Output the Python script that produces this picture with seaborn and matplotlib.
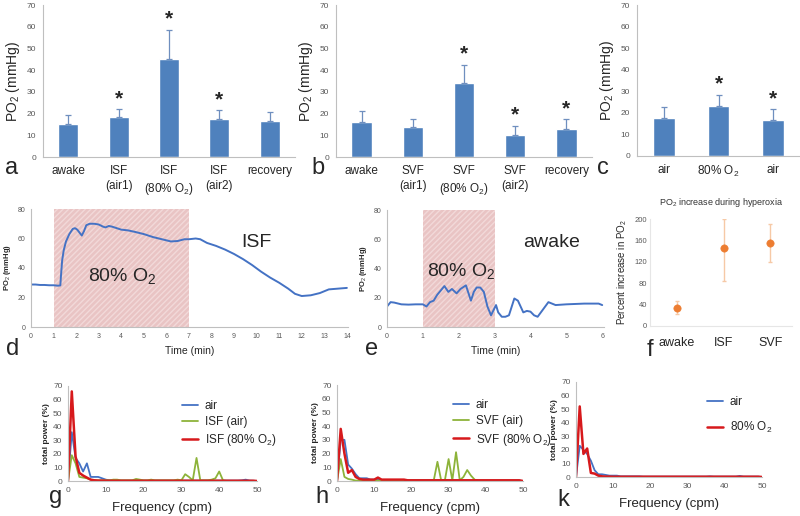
import numpy as np
import pandas as pd
import matplotlib
matplotlib.use("Agg")
import matplotlib.pyplot as plt
import seaborn as sns

# ---- data: bar panels (mean PO2 and upper error) ----
a_labels = ["awake", "ISF\n(air1)", "ISF\n(80% O$_2$)", "ISF\n(air2)", "recovery"]
a_means = [15.2, 18.3, 45.3, 17.7, 16.7]
a_err = [4.3, 3.7, 13.4, 3.8, 4.1]
a_star = [False, True, True, True, False]

b_labels = ["awake", "SVF\n(air1)", "SVF\n(80% O$_2$)", "SVF\n(air2)", "recovery"]
b_means = [16.3, 13.8, 34.0, 10.3, 13.0]
b_err = [4.7, 3.9, 8.5, 4.2, 4.5]
b_star = [False, False, True, True, True]

c_labels = ["air", "80% O$_2$", "air"]
c_means = [17.5, 23.0, 16.5]
c_err = [5.0, 5.3, 5.3]
c_star = [False, True, True]

# ---- data: PO2 traces ----
d_time = [0.0, 0.2, 0.4, 0.6, 0.8, 1.0, 1.2, 1.3, 1.32, 1.38, 1.45, 1.55, 1.7, 1.85,
          1.95, 2.05, 2.15, 2.25, 2.35, 2.45, 2.6, 2.8, 3.0, 3.2, 3.3, 3.45, 3.6, 3.8,
          4.0, 4.3, 4.6, 5.0, 5.4, 5.8, 6.2, 6.5, 6.8, 7.0, 7.3, 7.5, 7.8, 8.2, 8.6,
          9.0, 9.4, 9.8, 10.2, 10.6, 11.0, 11.4, 11.7, 12.0, 12.4, 12.8, 13.2, 13.6, 14.0]
d_po2 = [28.8, 28.8, 28.5, 28.5, 28.3, 28.3, 28.0, 28.2, 33, 45, 52, 58, 63, 66.5,
         67, 66, 64, 62, 65, 69, 70, 70, 69.5, 68, 67.5, 68.5, 68, 67,
         66, 65.5, 64.5, 63, 61, 59.5, 58, 58.3, 59.5, 59.5, 60, 59.5, 57, 55, 52.5,
         49.5, 46, 42, 37.5, 33.5, 30, 26, 22.5, 21, 21.5, 23, 25.5, 26, 26.5]

e_time = [0.0, 0.1, 0.2, 0.4, 0.6, 0.8, 1.0, 1.1, 1.2, 1.3, 1.4, 1.5, 1.6, 1.71,
          1.81, 1.94, 2.05, 2.2, 2.34, 2.42, 2.5, 2.6, 2.7, 2.8, 2.9, 3.04, 3.1,
          3.2, 3.3, 3.4, 3.55, 3.65, 3.8, 3.9, 4.0, 4.1, 4.2, 4.35, 4.5, 4.7, 5.0,
          5.5, 5.9, 6.0]
e_po2 = [14, 17, 16.7, 15.5, 15.3, 15.5, 15.5, 14, 17, 18, 22, 25, 28, 24,
         26, 23, 26, 28.5, 18, 24, 27, 27, 24, 14, 8, 15, 10,
         7, 7, 8, 19.5, 18, 10, 11, 10.5, 8, 7, 12, 17, 15, 15.5,
         16, 16, 15]

# ---- data: hyperoxia percent increase ----
f_groups = ["awake", "ISF", "SVF"]
f_mean = [34, 145, 155]
f_lo = [12, 60, 35]
f_hi = [12, 55, 35]

# ---- data: power spectra (frequency 0..50 cpm) ----
freq = list(range(51))
g_air = [0, 36, 17, 13, 7, 13, 3, 3, 3, 2, 1, 0.5, 0.5, 0.3, 0.3, 0.3, 0.3, 0.3, 0.3, 0.3,
         0.3, 0.3, 0.3, 0.3, 0.3, 0.3, 0.3, 0.3, 0.3, 0.3, 0.3, 0.3, 0.3, 0.3, 0.3, 0.3,
         0.3, 0.3, 0.3, 0.3, 0.3, 0.3, 0.3, 0.3, 0.3, 0.3, 0.5, 1, 0.3, 0.2, 0]
g_isf_air = [0, 19, 13, 3, 2.5, 2, 1, 0.5, 0.5, 0.5, 0.5, 0.5, 1, 1, 0.5, 0.5, 0.5, 0.5, 1.5, 1,
             0.5, 0.5, 1, 0.5, 0.5, 0.5, 0.5, 0.5, 0.5, 1, 0.5, 5, 3, 0.5, 17, 0.5,
             0.5, 0.5, 1, 2, 7, 0.5, 0, 0, 0, 0, 0, 0, 0, 0, 0]
g_isf_o2 = [0, 66, 18, 6, 4, 2.5, 1, 0.5, 0.3, 0.3, 0.2, 0.2, 0.2, 0.2, 0.2, 0.2, 0.2, 0.2, 0.2, 0.2,
            0.2, 0.2, 0.2, 0.2, 0.2, 0.2, 0.2, 0.2, 0.2, 0.2, 0.2, 0.2, 0.2, 0.2, 0.2, 0.2,
            0.2, 0.2, 0.2, 0.2, 0.2, 0.2, 0.2, 0.2, 0.2, 0.2, 0.2, 0.2, 0.2, 0.2, 0]

h_air = [0, 30, 30, 12, 9, 5, 2, 2, 2, 1, 1, 1, 0.5, 0.5, 0.5, 0.5, 0.5, 0.5, 0.5, 0.5,
         0.5, 0.5, 0.5, 0.5, 0.5, 0.5, 0.5, 0.5, 0.5, 0.5, 0.5, 0.5, 0.5, 0.3, 0.3, 0.3,
         0.3, 0.3, 0.3, 0.3, 0.3, 0.3, 0.3, 0.3, 0.3, 0.3, 0.3, 0.3, 0.3, 0.3, 0]
h_svf_air = [0, 16, 3, 1.5, 1, 0.3, 0.3, 0.3, 0.3, 0.3, 0.3, 0.3, 0.3, 0.3, 0.3, 0.3, 0.3, 0.3, 0.3, 0.3,
             0.3, 0.3, 0.3, 0.3, 0.3, 0.3, 0.3, 14, 0.5, 0.5, 16, 0.5, 21, 0.5, 3, 8,
             4, 1, 0, 0, 0, 0, 0, 0, 0, 0, 0, 0, 0, 0, 0]
h_svf_o2 = [0, 38, 20, 6, 8, 3, 1.5, 1, 1, 1, 1, 2.5, 1, 1, 1, 1, 1, 1, 1, 0.5,
            0.5, 0.5, 0.5, 0.5, 0.5, 0.5, 0.5, 0.5, 0.5, 0.5, 0.5, 0.5, 0.5, 0.5, 0.5, 0.5,
            0.5, 0.5, 0.5, 0.5, 0.5, 0.5, 0.5, 0.5, 0.5, 0.5, 0.5, 0.5, 0.5, 0.5, 0]

k_air = [0, 23, 20, 17, 12, 5, 2, 2, 1.5, 1, 1, 1, 0.5, 0.5, 0.5, 0.5, 0.5, 0.5, 0.3, 0.3,
         0.3, 0.3, 0.3, 0.3, 0.3, 0.3, 0.3, 0.3, 0.3, 0.3, 0.3, 0.3, 0.3, 0.3, 0.3, 0.3,
         0.5, 0.3, 0.3, 0.3, 0.3, 0.3, 0.3, 0.3, 0.8, 0.3, 0.3, 0.3, 0.3, 0.3, 0]
k_o2 = [0, 52, 17, 21, 3, 2.5, 1, 0.5, 0.3, 0.3, 0.2, 0.2, 0.2, 0.2, 0.2, 0.2, 0.2, 0.2, 0.2, 0.2,
        0.2, 0.2, 0.2, 0.2, 0.2, 0.2, 0.2, 0.2, 0.2, 0.2, 0.2, 0.2, 0.2, 0.2, 0.2, 0.2,
        0.2, 0.2, 0.2, 0.2, 0.2, 0.2, 0.2, 0.2, 0.2, 0.2, 0.2, 0.2, 0.2, 0.2, 0]

# ---- style ----
sns.set_style("white")
plt.rcParams['font.family'] = ['Liberation Sans', 'DejaVu Sans']
plt.rcParams['mathtext.fontset'] = 'custom'
plt.rcParams['mathtext.rm'] = 'Liberation Sans'

BAR = "#4F81BD"
LINE = "#4472C4"
GREEN = "#8DB33A"
RED = "#D7191C"
ORANGE = "#ED7D31"
AXC = "#BFBFBF"
TICKC = "#595959"

fig = plt.figure(figsize=(8, 5.16), dpi=100)


def ax_at(l, t, r, b):
    # pixel box -> figure axes
    return fig.add_axes([l / 800, 1 - b / 516, (r - l) / 800, (b - t) / 516])


def excel_axes(ax):
    for s in ["top", "right"]:
        ax.spines[s].set_visible(False)
    for s in ["left", "bottom"]:
        ax.spines[s].set_color(AXC)
        ax.spines[s].set_linewidth(0.8)


def bar_panel(ax, labels, means, err, stars, letter, lx):
    n = len(means)
    pos = list(range(n))
    sns.barplot(x=pos, y=means, color=BAR, width=0.4, saturation=1, ax=ax)
    ax.errorbar(pos, means, yerr=[np.zeros(n), err], fmt="none",
                ecolor="#6F8FBF", elinewidth=0.9, capsize=2, capthick=0.9)
    for i in range(n):
        if stars[i]:
            ax.text(i, means[i] + err[i] + 0.5, "*", ha="center", va="bottom",
                    fontsize=15, fontweight="bold")
    excel_axes(ax)
    ax.set_xlim(-0.5, n - 0.5)
    ax.set_ylim(0, 70)
    ax.set_yticks(range(0, 71, 10))
    ax.set_xticks(pos)
    ax.set_xticklabels(labels, fontsize=8.5, linespacing=1.3)
    ax.set_xticks(np.arange(-0.5, n, 1), minor=True)
    ax.tick_params(axis="x", which="major", length=0, pad=6)
    ax.tick_params(axis="x", which="minor", length=3, color=AXC)
    ax.tick_params(axis="y", labelsize=6, labelcolor=TICKC, length=3, color=AXC, pad=2)
    ax.set_ylabel("PO$_2$ (mmHg)", fontsize=10, labelpad=3)
    fig.text(lx / 800, 1 - 168 / 516, letter, fontsize=17, ha="center", va="center")


ax_a = ax_at(43, 5, 295, 157)
bar_panel(ax_a, a_labels, a_means, a_err, a_star, "a", 12)
ax_b = ax_at(336, 5, 592, 157)
bar_panel(ax_b, b_labels, b_means, b_err, b_star, "b", 318)
ax_c = ax_at(637, 5, 800, 156)
bar_panel(ax_c, c_labels, c_means, c_err, c_star, "c", 603)


def trace_panel(ax, t, v, xmax, span, txt, letter, lx):
    ax.axvspan(span[0], span[1], ymin=0, ymax=1, facecolor="#E9C4C4",
               edgecolor="#F2D9D9", hatch="//////", linewidth=0, zorder=0)
    df = pd.DataFrame({"t": t, "v": v})
    sns.lineplot(data=df, x="t", y="v", color=LINE, linewidth=1.4, ax=ax)
    excel_axes(ax)
    ax.set_xlim(0, xmax + 0.05)
    ax.set_ylim(0, 80)
    ax.set_xticks(range(0, int(xmax) + 1))
    ax.set_yticks(range(0, 81, 20))
    ax.tick_params(labelsize=5, labelcolor=TICKC, length=2, color=AXC, pad=2)
    ax.set_xlabel("Time (min)", fontsize=7.5, labelpad=5)
    ax.set_ylabel("PO$_2$ (mmHg)", fontsize=5.5, fontweight="bold", labelpad=3)
    for (x, y, s) in txt:
        ax.text(x, y, s, fontsize=14, ha="center", va="center")
    fig.text(lx / 800, 1 - 349 / 516, letter, fontsize=17, ha="center", va="center")


ax_d = ax_at(31, 209, 348, 327)
trace_panel(ax_d, d_time, d_po2, 14, (1, 7),
            [(4.05, 34, "80% O$_2$"), (10.0, 57.5, "ISF")], "d", 13)
ax_e = ax_at(387, 210, 604, 327)
trace_panel(ax_e, e_time, e_po2, 6, (1, 3),
            [(2.08, 37.5, "80% O$_2$"), (4.6, 58, "awake")], "e", 372)

# panel f
ax_f = ax_at(650, 219, 792, 326)
ax_f.errorbar(range(3), f_mean, yerr=[f_lo, f_hi], fmt="none", ecolor="#F6C9A6",
              elinewidth=1.0, capsize=1.5)
sns.scatterplot(x=list(range(3)), y=f_mean, color=ORANGE, s=28, edgecolor=ORANGE,
                zorder=3, ax=ax_f)
excel_axes(ax_f)
ax_f.spines["left"].set_color("#E6E6E6")
ax_f.spines["bottom"].set_color("#E6E6E6")
ax_f.set_xlim(-0.58, 2.47)
ax_f.set_ylim(0, 200)
ax_f.set_yticks(range(0, 201, 40))
ax_f.set_xticks(range(3))
ax_f.set_xticklabels(f_groups, fontsize=9)
ax_f.tick_params(axis="x", length=0, pad=8)
ax_f.tick_params(axis="y", labelsize=5.5, labelcolor=TICKC, length=0, pad=2)
ax_f.set_ylabel("Percent increase in PO$_2$", fontsize=7, labelpad=4)
ax_f.set_title("PO$_2$ increase during hyperoxia", fontsize=6.5, pad=10, color="#333333")
fig.text(650 / 800, 1 - 350 / 516, "f", fontsize=17, ha="center", va="center")


def spec_panel(ax, series, letter, lx, ly, lgx, lspace):
    for vals, col, lab, lw in series:
        sns.lineplot(x=freq, y=vals, color=col, linewidth=lw, label=lab, ax=ax)
    excel_axes(ax)
    ax.set_xlim(0, 50)
    ax.set_ylim(0, 70)
    ax.set_xticks(range(0, 51, 10))
    ax.set_yticks(range(0, 71, 10))
    ax.tick_params(labelsize=6, labelcolor=TICKC, length=2, color=AXC, pad=2)
    ax.set_xlabel("Frequency (cpm)", fontsize=9.5, labelpad=6)
    ax.set_ylabel("total power (%)", fontsize=6, fontweight="bold", labelpad=2)
    ax.legend(loc="upper left", bbox_to_anchor=(lgx, 0.9), frameon=False,
              fontsize=8.5, handlelength=1.3, handletextpad=0.6,
              labelspacing=lspace, borderaxespad=0)
    fig.text(lx / 800, 1 - ly / 516, letter, fontsize=17, ha="center", va="center")


ax_g = ax_at(68, 386, 257, 481)
spec_panel(ax_g, [(g_air, LINE, "air", 1.3), (g_isf_air, GREEN, "ISF (air)", 1.3),
                  (g_isf_o2, RED, "ISF (80% O$_2$)", 1.8)], "g", 56, 497, 0.58, 0.35)
ax_h = ax_at(337, 385, 523, 481)
spec_panel(ax_h, [(h_air, LINE, "air", 1.3), (h_svf_air, GREEN, "SVF (air)", 1.3),
                  (h_svf_o2, RED, "SVF (80% O$_2$)", 1.8)], "h", 322, 497, 0.6, 0.35)
ax_k = ax_at(576, 382, 762, 477)
spec_panel(ax_k, [(k_air, LINE, "air", 1.3), (k_o2, RED, "80% O$_2$", 1.8)],
           "k", 563, 500, 0.68, 1.0)

fig.savefig("out.png", dpi=100)
